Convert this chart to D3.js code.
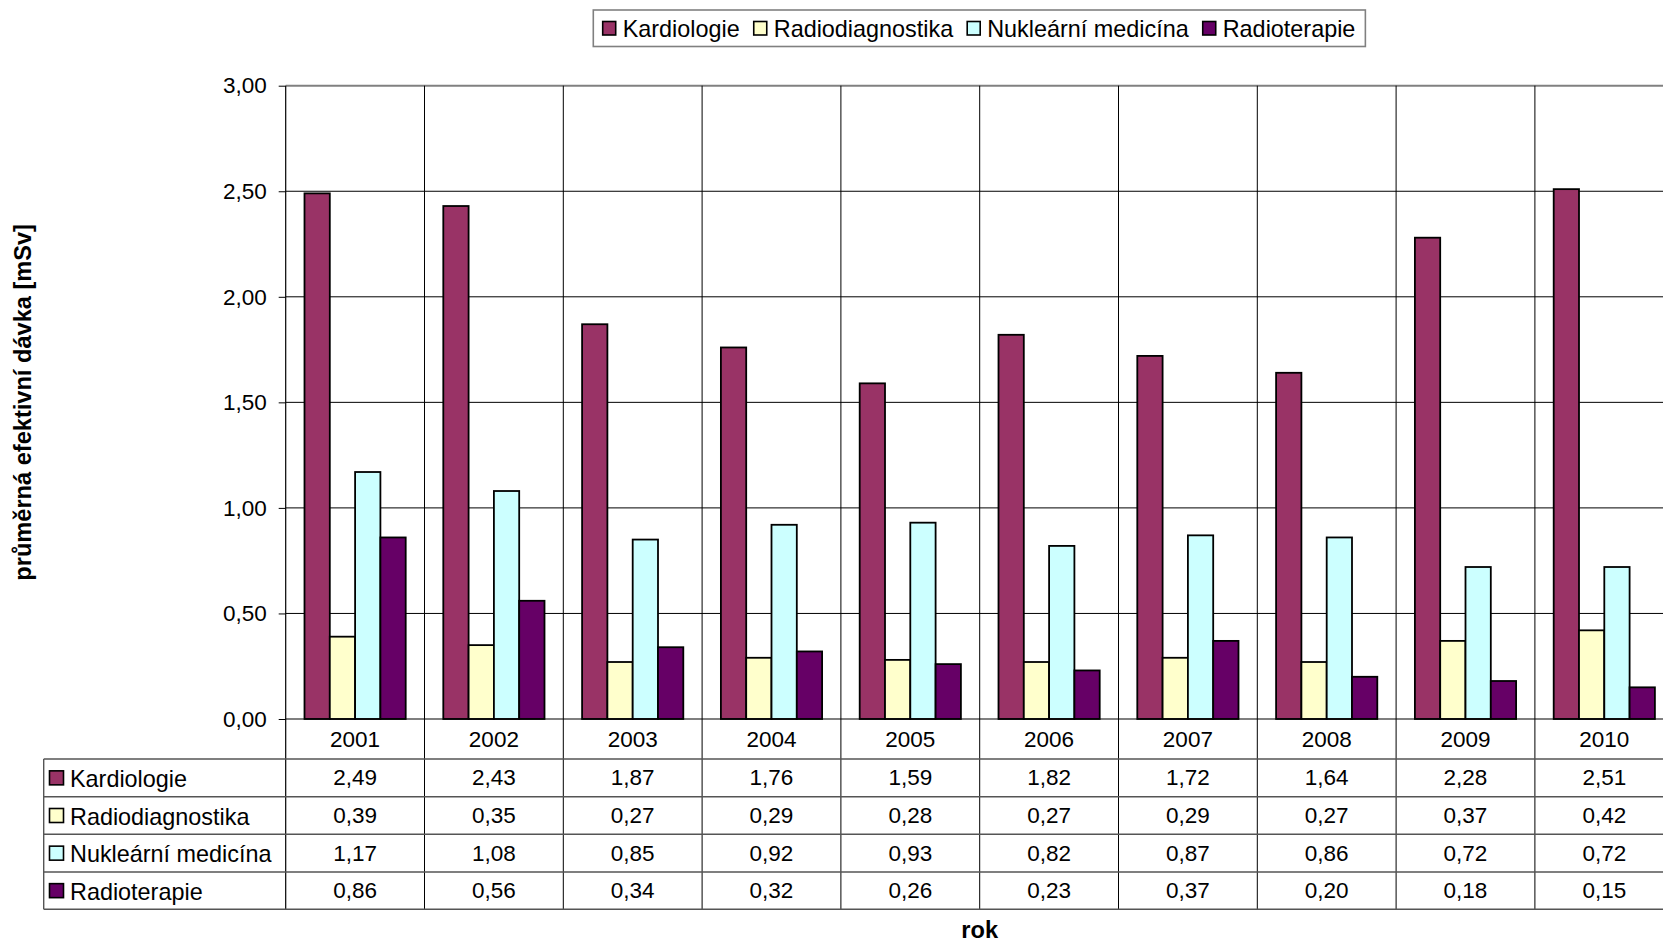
<!DOCTYPE html>
<html>
<head>
<meta charset="utf-8">
<script src="https://cdn.jsdelivr.net/npm/d3@7"></script>
<style>
  html, body { margin: 0; padding: 0; background: #fff; }
  svg { display: block; font-family: "Liberation Sans", Arial, sans-serif; }
</style>
</head>
<body>
<svg id="chart" width="1663" height="942"></svg>
<script>
// Average effective dose by year and field
const years = ["2001", "2002", "2003", "2004", "2005", "2006", "2007", "2008", "2009", "2010"];
const seriesNames = ["Kardiologie", "Radiodiagnostika", "Nukleární medicína", "Radioterapie"];
const seriesColors = ["#993366", "#FFFFCC", "#CCFFFF", "#660066"];
const kardiologie = [2.49, 2.43, 1.87, 1.76, 1.59, 1.82, 1.72, 1.64, 2.28, 2.51];
const radiodiagnostika = [0.39, 0.35, 0.27, 0.29, 0.28, 0.27, 0.29, 0.27, 0.37, 0.42];
const nuklearni = [1.17, 1.08, 0.85, 0.92, 0.93, 0.82, 0.87, 0.86, 0.72, 0.72];
const radioterapie = [0.86, 0.56, 0.34, 0.32, 0.26, 0.23, 0.37, 0.20, 0.18, 0.15];
const yTicks = [0, 0.5, 1, 1.5, 2, 2.5, 3];
const yTitle = "průměrná efektivní dávka [mSv]";
const xTitle = "rok";

const seriesValues = [kardiologie, radiodiagnostika, nuklearni, radioterapie];
const fmt = v => v.toFixed(2).replace(".", ",");

const svg = d3.select("#chart");
const FS_NUM = 22.5;   // numbers
const FS_TXT = 23.4;   // word labels
const FS_TITLE = 23.6; // bold axis titles

// Layout
const plotLeft = 285.7, catW = 138.8, plotTop = 85.7, plotBottom = 719;
const tableLeft = 43.7;
const rowLines = [759, 796.7, 834.3, 872, 909.3];

const x = d3.scaleBand().domain(years).range([plotLeft, plotLeft + catW * years.length]).padding(0);
const xInner = d3.scaleBand().domain(seriesNames).range([0, catW]).paddingInner(0).paddingOuter(0.743);
const y = d3.scaleLinear().domain([0, 3]).range([plotBottom, plotTop]);

// Horizontal gridlines
svg.append("g").selectAll("line")
  .data(yTicks.filter(t => t > 0 && t < 3))
  .join("line")
  .attr("x1", plotLeft).attr("x2", 1663)
  .attr("y1", d => y(d)).attr("y2", d => y(d))
  .attr("stroke", "#000").attr("stroke-width", 1);

// Top border of the plot area
svg.append("line")
  .attr("x1", plotLeft).attr("x2", 1663)
  .attr("y1", y(3)).attr("y2", y(3))
  .attr("stroke", "#808080").attr("stroke-width", 2);

// Category separators running through the data table
svg.append("g").selectAll("line")
  .data(years.slice(1))
  .join("line")
  .attr("x1", d => x(d)).attr("x2", d => x(d))
  .attr("y1", plotTop).attr("y2", rowLines[rowLines.length - 1])
  .attr("stroke", "#000").attr("stroke-width", 1);

// Bars
const groups = svg.append("g").selectAll("g")
  .data(years)
  .join("g")
  .attr("transform", d => `translate(${x(d)},0)`);

groups.selectAll("rect")
  .data((d, i) => seriesNames.map((s, k) => ({ s, k, v: seriesValues[k][i] })))
  .join("rect")
  .attr("x", d => xInner(d.s))
  .attr("width", xInner.bandwidth())
  .attr("y", d => y(d.v))
  .attr("height", d => y(0) - y(d.v))
  .attr("fill", d => seriesColors[d.k])
  .attr("stroke", "#000")
  .attr("stroke-width", 1.8);

// Y axis
const yAxis = d3.axisLeft(y).tickValues(yTicks).tickFormat(fmt).tickSize(7).tickPadding(12);
const yg = svg.append("g").attr("transform", `translate(${plotLeft},0)`).call(yAxis);
yg.select(".domain").remove();
yg.selectAll(".tick line").attr("stroke", "#000");
yg.selectAll(".tick text").attr("font-size", FS_NUM).attr("font-family", "Liberation Sans, Arial, sans-serif").attr("fill", "#000");

// Axis line continues down the table's category column edge
svg.append("line")
  .attr("x1", plotLeft).attr("x2", plotLeft)
  .attr("y1", plotTop).attr("y2", rowLines[rowLines.length - 1])
  .attr("stroke", "#000").attr("stroke-width", 1.2);

// Zero line
svg.append("line")
  .attr("x1", plotLeft).attr("x2", 1663)
  .attr("y1", y(0)).attr("y2", y(0))
  .attr("stroke", "#000").attr("stroke-width", 1.2);

// Year labels under the axis
svg.append("g").selectAll("text")
  .data(years)
  .join("text")
  .attr("x", d => x(d) + catW / 2)
  .attr("y", (plotBottom + rowLines[0]) / 2)
  .attr("text-anchor", "middle")
  .attr("dominant-baseline", "central")
  .attr("font-size", FS_NUM)
  .text(d => d);

// Data table rows
svg.append("g").selectAll("line")
  .data(rowLines)
  .join("line")
  .attr("x1", tableLeft).attr("x2", 1663)
  .attr("y1", d => d).attr("y2", d => d)
  .attr("stroke", "#555").attr("stroke-width", 1.4);

svg.append("line")
  .attr("x1", tableLeft).attr("x2", tableLeft)
  .attr("y1", rowLines[0]).attr("y2", rowLines[rowLines.length - 1])
  .attr("stroke", "#555").attr("stroke-width", 1.4);

seriesNames.forEach((name, k) => {
  const cy = (rowLines[k] + rowLines[k + 1]) / 2;
  svg.append("rect")
    .attr("x", 49.5).attr("y", cy - 7)
    .attr("width", 14).attr("height", 14)
    .attr("fill", seriesColors[k]).attr("stroke", "#000").attr("stroke-width", 1.6);
  svg.append("text")
    .attr("x", 70).attr("y", cy + 1)
    .attr("dominant-baseline", "central")
    .attr("font-size", FS_TXT)
    .text(name);
  svg.append("g").selectAll("text")
    .data(years.map((yr, i) => ({ yr, v: seriesValues[k][i] })))
    .join("text")
    .attr("x", d => x(d.yr) + catW / 2)
    .attr("y", cy)
    .attr("text-anchor", "middle")
    .attr("dominant-baseline", "central")
    .attr("font-size", FS_NUM)
    .text(d => fmt(d.v));
});

// Axis titles
svg.append("text")
  .attr("transform", `translate(23,${(plotTop + plotBottom) / 2}) rotate(-90)`)
  .attr("text-anchor", "middle")
  .attr("dominant-baseline", "central")
  .attr("font-size", FS_TITLE)
  .attr("font-weight", "bold")
  .text(yTitle);

svg.append("text")
  .attr("x", plotLeft + catW * years.length / 2)
  .attr("y", 930)
  .attr("text-anchor", "middle")
  .attr("dominant-baseline", "central")
  .attr("font-size", FS_TITLE)
  .attr("font-weight", "bold")
  .text(xTitle);

// Legend
const legend = svg.append("g");
const legBox = legend.append("rect")
  .attr("y", 10).attr("height", 36.5)
  .attr("fill", "#fff").attr("stroke", "#808080").attr("stroke-width", 1.6);
let cx = 602.7;
seriesNames.forEach((name, k) => {
  legend.append("rect")
    .attr("x", cx).attr("y", 21.5)
    .attr("width", 13).attr("height", 13.5)
    .attr("fill", seriesColors[k]).attr("stroke", "#000").attr("stroke-width", 1.6);
  const t = legend.append("text")
    .attr("x", cx + 20).attr("y", 29)
    .attr("dominant-baseline", "central")
    .attr("font-size", FS_TXT)
    .text(name);
  cx = cx + 20 + t.node().getComputedTextLength() + 14;
});
legBox.attr("x", 593.3).attr("width", cx - 14 + 10 - 593.3);
</script>
</body>
</html>
